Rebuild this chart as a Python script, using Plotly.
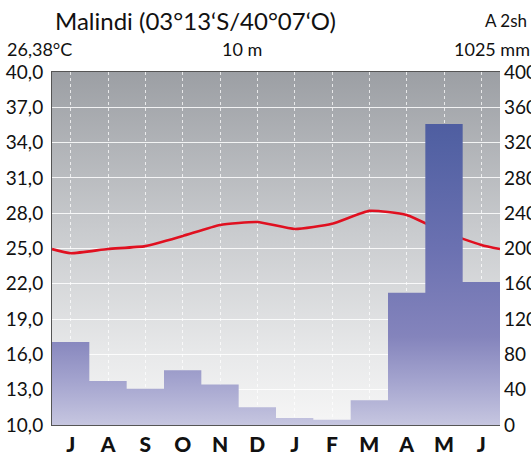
import base64
import plotly.graph_objects as go

months = ["J", "A", "S", "O", "N", "D", "J", "F", "M", "A", "M", "J"]
temp_c = [24.6, 24.96, 25.2, 26.06, 27.0, 27.25, 26.66, 27.1, 28.2, 27.85, 26.4, 25.3]
precip_mm = [94, 50, 41, 62, 46, 20, 8, 6, 28, 150, 341, 162]
temp_ticks = [10, 13, 16, 19, 22, 25, 28, 31, 34, 37, 40]
temp_ticktext = ["10,0", "13,0", "16,0", "19,0", "22,0", "25,0", "28,0", "31,0", "34,0", "37,0", "40,0"]
precip_ticks = [0, 40, 80, 120, 160, 200, 240, 280, 320, 360, 400]
title_text = "Malindi (03°13‘S/40°07‘O)"
climate_class = "A 2sh"
mean_temp_text = "26,38°C"
altitude_text = "10 m"
total_precip_text = "1025 mm"

W, H = 531, 461
L, R, T, B = 52, 31, 72, 36
PW, PH = W - L - R, H - T - B

FONT = "Lato"

# background gradient image (svg)
svg = (
    f'<svg xmlns="http://www.w3.org/2000/svg" width="{PW}" height="{PH}" '
    f'viewBox="0 0 {PW} {PH}" preserveAspectRatio="none">'
    '<defs><linearGradient id="g" x1="0" y1="0" x2="0" y2="1">'
    '<stop offset="0" stop-color="#9c9fa4"/>'
    '<stop offset="0.45" stop-color="#c9cbce"/>'
    '<stop offset="0.8" stop-color="#e8e9ea"/>'
    '<stop offset="1" stop-color="#f6f6f6"/>'
    '</linearGradient></defs>'
    f'<rect x="0" y="0" width="{PW}" height="{PH}" fill="url(#g)"/></svg>'
)
src = "data:image/svg+xml;base64," + base64.b64encode(svg.encode()).decode()

n = len(months)
xs = list(range(n))

# precipitation step area
step_x = [i - 0.5 for i in range(n)] + [n - 0.5]
step_y = precip_mm + [precip_mm[-1]]

# temperature line, extended to plot edges with wrap-around mean
edge_t = (temp_c[0] + temp_c[-1]) / 2
line_x = [-0.5] + xs + [n - 0.5]
line_y = [edge_t] + temp_c + [edge_t]

fig = go.Figure()

fig.add_trace(go.Scatter(
    x=step_x, y=step_y, yaxis="y2", mode="lines",
    line=dict(shape="hv", width=0, color="rgba(0,0,0,0)"),
    fill="tozeroy",
    fillgradient=dict(
        type="vertical", start=0, stop=400,
        colorscale=[[0, "#c6c6e0"], [0.12, "#a5a5cf"], [0.25, "#8484bc"],
                    [0.5, "#6b71b1"], [0.8, "#5261a3"], [1, "#46549a"]],
    ),
    hoverinfo="skip", showlegend=False,
))

fig.add_trace(go.Scatter(
    x=line_x, y=line_y, mode="lines",
    line=dict(color="#e01020", width=2.6, shape="spline", smoothing=0.5),
    hoverinfo="skip", showlegend=False,
))

fig.update_layout(
    width=W, height=H,
    margin=dict(l=L, r=R, t=T, b=B, autoexpand=False),
    paper_bgcolor="white",
    plot_bgcolor="rgba(0,0,0,0)",
    font=dict(family=FONT, color="#111", size=19),
    images=[dict(source=src, xref="paper", yref="paper", x=0, y=1,
                 sizex=1, sizey=1, xanchor="left", yanchor="top",
                 sizing="stretch", layer="below")],
    xaxis=dict(
        range=[-0.5, n - 0.5], tickvals=xs, ticktext=months,
        tickfont=dict(family=FONT, size=21, color="#111", weight=900),
        showgrid=True, gridcolor="rgba(255,255,255,0.75)", griddash="dot", gridwidth=1,
        showline=True, linecolor="#555", linewidth=1, mirror=True,
        ticks="", ticklabelstandoff=1, zeroline=False, fixedrange=True,
        automargin=False,
    ),
    yaxis=dict(
        range=[10, 40], tickvals=temp_ticks, ticktext=temp_ticktext,
        tickfont=dict(size=19),
        showgrid=True, gridcolor="rgba(255,255,255,0.85)", gridwidth=1,
        showline=True, linecolor="#555", linewidth=1,
        ticks="", ticklabelstandoff=4, zeroline=False, fixedrange=True,
        automargin=False,
    ),
    yaxis2=dict(
        range=[0, 400], tickvals=precip_ticks, overlaying="y", side="right",
        tickfont=dict(size=19),
        showgrid=False, showline=False, ticks="", ticklabelstandoff=3,
        zeroline=False, fixedrange=True, automargin=False,
    ),
)

def px_x(p):
    return (p - L) / PW

def px_y(p):
    return 1 - (p - T) / PH

ann = [
    dict(text=title_text, x=px_x(195), y=px_y(20), xanchor="center", size=24),
    dict(text=climate_class, x=px_x(483), y=px_y(20), xanchor="left", size=17),
    dict(text=mean_temp_text, x=px_x(5), y=px_y(49), xanchor="left", size=18),
    dict(text=altitude_text, x=px_x(242), y=px_y(49), xanchor="center", size=18),
    dict(text=total_precip_text, x=px_x(452), y=px_y(49), xanchor="left", size=18),
]
for a in ann:
    fig.add_annotation(
        text=a["text"], xref="paper", yref="paper", x=a["x"], y=a["y"],
        xanchor=a["xanchor"], yanchor="middle", showarrow=False,
        font=dict(family=FONT, size=a["size"], color="#111"),
    )

fig.write_html(
    "out.html",
    config={"displayModeBar": False},
    post_script="document.body.style.margin='0';document.body.style.overflow='hidden';",
)
